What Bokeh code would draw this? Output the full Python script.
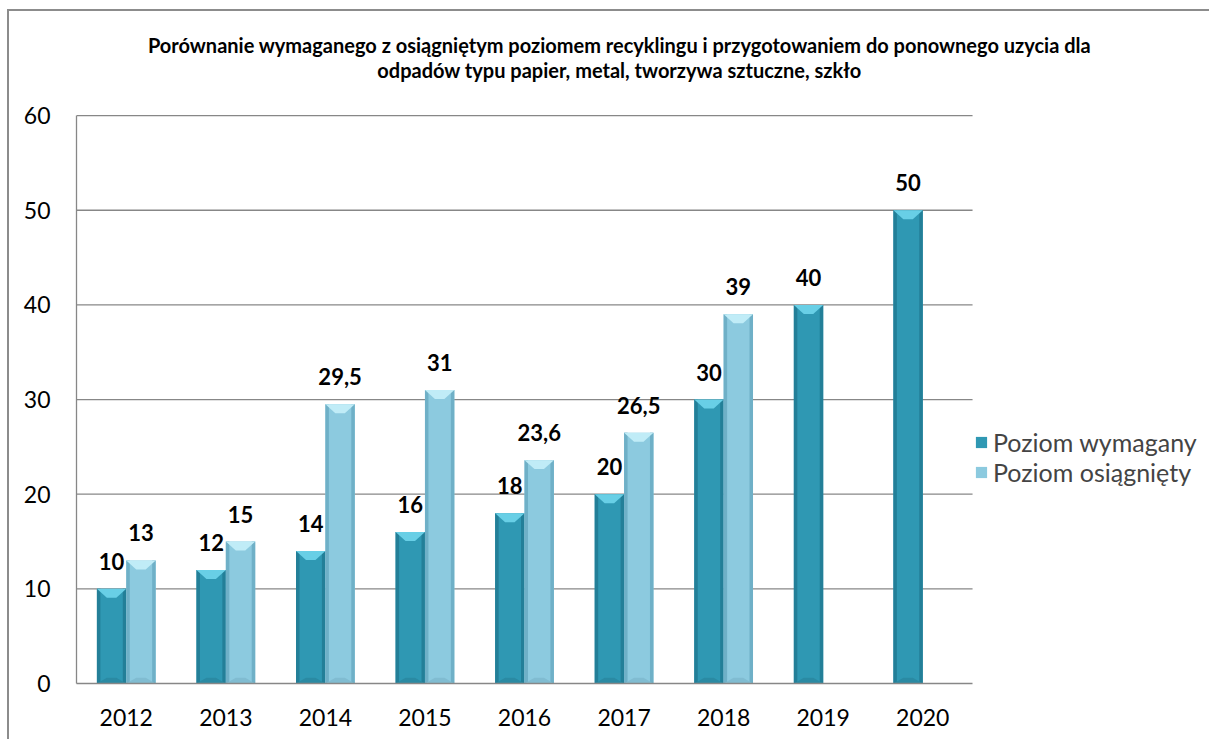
from bokeh.plotting import figure
from bokeh.models import Range1d, FixedTicker, Legend, LegendItem, Label
from bokeh.core.properties import value
from bokeh.embed import file_html
from bokeh.resources import INLINE

# ---- data ----
years = ["2012", "2013", "2014", "2015", "2016", "2017", "2018", "2019", "2020"]
wymagany = [10, 12, 14, 16, 18, 20, 30, 40, 50]
osiagniety = [13, 15, 29.5, 31, 23.6, 26.5, 39, None, None]
series_names = ["Poziom wymagany", "Poziom osiągnięty"]
title_lines = [
    "Porównanie wymaganego z osiągniętym poziomem recyklingu i przygotowaniem do ponownego uzycia dla",
    "odpadów typu papier, metal, tworzywa sztuczne, szkło",
]
y_ticks = [0, 10, 20, 30, 40, 50, 60]

FONT = "Lato"
GRID = "#878787"
BAR_W = 0.295
n = len(years)
X0, X1 = -0.5, n - 0.5
Y_MAX = max(y_ticks)

p = figure(
    output_backend="svg", toolbar_location=None,
    frame_width=1133, frame_height=672,
    min_border_left=67, min_border_right=0, min_border_top=0, min_border_bottom=56,
    x_range=Range1d(X0, 10.88), y_range=Range1d(0, 71.0),
    background_fill_color="white", border_fill_color="white",
)
p.styles = {"margin": "9px 0 0 7px",
            "border-top": "2px solid #8c8c8c", "border-left": "2px solid #8c8c8c"}
p.outline_line_color = None
p.xgrid.visible = False
p.ygrid.visible = False

# horizontal gridlines, spanning only the category area
p.segment(x0=X0, x1=X1, y0=y_ticks[1:], y1=y_ticks[1:], line_color=GRID, line_width=1.3)

p.yaxis.ticker = FixedTicker(ticks=y_ticks)
p.yaxis.bounds = (0, Y_MAX)
p.xaxis.ticker = FixedTicker(ticks=list(range(n)))
p.xaxis.bounds = (X0, X1)
p.xaxis.major_label_overrides = {i: y for i, y in enumerate(years)}
for ax in (p.xaxis, p.yaxis):
    ax.axis_line_color = GRID
    ax.axis_line_width = 1.3
    ax.major_tick_line_color = None
    ax.minor_tick_line_color = None
    ax.major_label_text_font = FONT
    ax.major_label_text_font_size = "23px"
    ax.major_label_text_color = "black"
p.yaxis.major_label_standoff = 20
p.xaxis.major_label_standoff = 19


def draw_series(offset, vals, main, light, dark, bottom_c):
    xs = [i + offset for i, v in enumerate(vals) if v is not None]
    ts = [v for v in vals if v is not None]
    L = [x - BAR_W / 2 for x in xs]
    R = [x + BAR_W / 2 for x in xs]
    r = p.vbar(x=xs, top=ts, bottom=0, width=BAR_W, fill_color=main, line_color=None)
    sx = 0.035
    p.quad(left=L, right=[l + sx for l in L], bottom=0, top=ts, fill_color=dark, line_color=None)
    p.quad(left=[rr - sx for rr in R], right=R, bottom=0, top=ts, fill_color=dark, line_color=None)
    bx, by = 0.1, 0.95
    p.patches(
        xs=[[l, rr, rr - bx, l + bx] for l, rr in zip(L, R)],
        ys=[[t, t, t - by, t - by] for t in ts],
        fill_color=light, line_color=None,
    )
    bbx, bby = 0.1, 0.6
    p.patches(
        xs=[[l, rr, rr - bbx, l + bbx] for l, rr in zip(L, R)],
        ys=[[0, 0, bby, bby] for _ in ts],
        fill_color=bottom_c, line_color=None,
    )
    p.text(
        x=xs, y=ts, text=[f"{v:g}".replace(".", ",") for v in ts],
        text_font=value(FONT), text_font_style="bold", text_font_size="22px",
        text_align="center", text_baseline="bottom", y_offset=-19, text_color="black",
    )
    return r


r1 = draw_series(-BAR_W / 2, wymagany, "#2f98b3", "#68cfe6", "#237f98", "#2a8aa3")
r2 = draw_series(BAR_W / 2, osiagniety, "#8ccadf", "#c0ecf7", "#6fb0c7", "#80bcd1")

legend = Legend(
    items=[LegendItem(label=series_names[0], renderers=[r1]),
           LegendItem(label=series_names[1], renderers=[r2])],
    location=(898, 196), orientation="vertical",
    border_line_color=None, background_fill_alpha=0,
    label_text_font=FONT, label_text_font_size="25px",
    glyph_width=14, glyph_height=14, label_standoff=5,
    padding=0, margin=0, spacing=0, label_height=24,
)
p.add_layout(legend)

for i, line in enumerate(title_lines):
    p.add_layout(Label(
        x=543, y=639 - 25 * i, x_units="screen", y_units="screen", text=line,
        text_font=FONT, text_font_style="bold", text_font_size="20px",
        text_align="center", text_baseline="middle", text_color="black",
    ))

open("out.html", "w").write(file_html(p, INLINE))
